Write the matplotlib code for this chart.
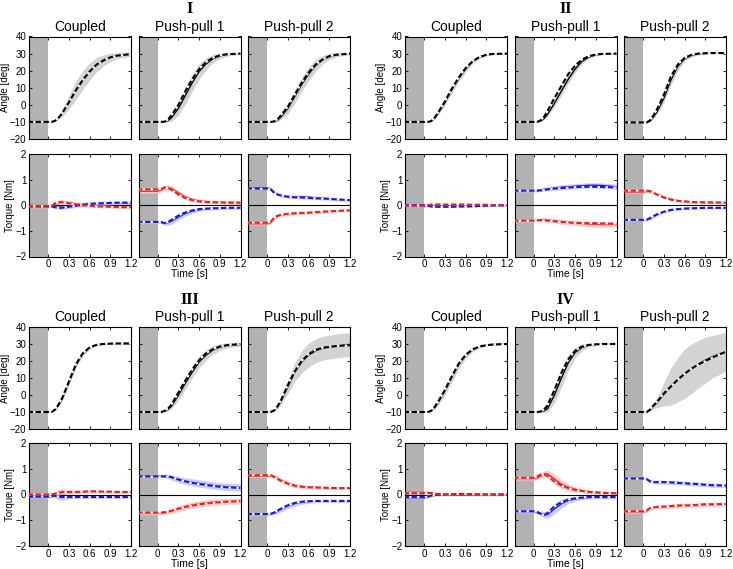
import numpy as np
import matplotlib
matplotlib.use('Agg')
import matplotlib.pyplot as plt

plt.rcParams['font.family'] = ['Liberation Sans', 'DejaVu Sans']

# time grid (s)
T = [-0.3, 0.0, 0.05, 0.1, 0.15, 0.2, 0.3, 0.4, 0.5, 0.6, 0.7, 0.8, 0.9, 1.0, 1.2]

GROUPS = ['I', 'II', 'III', 'IV']
CONDS = ['C', 'P1', 'P2']
COND_TITLES = ['Coupled', 'Push-pull 1', 'Push-pull 2']
X_TICKS = [0, 0.3, 0.6, 0.9, 1.2]
X_TICK_LABELS = ['0', '0.3', '0.6', '0.9', '1.2']
ANG_TICKS = [-20, -10, 0, 10, 20, 30, 40]
TQ_TICKS = [-2, -1, 0, 1, 2]

# ---------------- Group I ----------------
I_C_ang      = [-10, -10, -10, -9.3, -7.5, -5, 1.5, 8.5, 14.5, 19.5, 23.5, 26, 27.8, 28.8, 29.7]
I_C_ang_mod  = [-10, -10, -10, -9.3, -7.5, -5, 1.5, 8.5, 14.5, 19.5, 23.5, 26, 27.8, 28.8, 29.7]
I_C_ang_sd   = [0, 0, 0, 0.3, 1, 2, 4, 5.5, 5.5, 5, 4.2, 3.3, 2.5, 1.8, 1.2]
I_C_red      = [-0.05, -0.05, -0.03, 0.05, 0.1, 0.12, 0.1, 0.05, 0.02, 0, -0.02, -0.03, -0.04, -0.05, -0.06]
I_C_red_mod  = [-0.03, -0.03, -0.02, 0.08, 0.12, 0.12, 0.08, 0.03, 0.0, -0.02, -0.04, -0.05, -0.06, -0.07, -0.08]
I_C_red_sd   = [0.05, 0.05, 0.06, 0.08, 0.1, 0.1, 0.08, 0.07, 0.07, 0.07, 0.07, 0.07, 0.07, 0.07, 0.07]
I_C_blue     = [-0.03, -0.03, -0.04, -0.06, -0.08, -0.08, -0.05, 0, 0.03, 0.05, 0.06, 0.07, 0.08, 0.08, 0.09]
I_C_blue_mod = [-0.05, -0.05, -0.05, -0.08, -0.1, -0.1, -0.06, -0.02, 0.02, 0.05, 0.07, 0.08, 0.09, 0.1, 0.1]
I_C_blue_sd  = [0.04, 0.04, 0.05, 0.06, 0.08, 0.08, 0.08, 0.08, 0.09, 0.09, 0.09, 0.09, 0.09, 0.09, 0.09]

I_P1_ang      = [-10, -10, -10, -9.9, -9.2, -7.5, -2, 5.5, 13, 19.5, 24, 27, 28.7, 29.5, 30]
I_P1_ang_mod  = [-10, -10, -10, -9.8, -8.5, -6, 0, 8, 15, 21, 25, 27.5, 29, 29.6, 30]
I_P1_ang_sd   = [0, 0, 0, 0.3, 1, 2, 4, 5, 5, 4.5, 3.5, 2.5, 1.5, 1, 0.6]
I_P1_red      = [0.55, 0.55, 0.6, 0.68, 0.7, 0.65, 0.48, 0.32, 0.22, 0.17, 0.14, 0.13, 0.12, 0.11, 0.1]
I_P1_red_mod  = [0.62, 0.62, 0.63, 0.7, 0.68, 0.6, 0.42, 0.28, 0.2, 0.15, 0.13, 0.12, 0.11, 0.1, 0.1]
I_P1_red_sd   = [0.08, 0.08, 0.08, 0.09, 0.1, 0.1, 0.1, 0.09, 0.08, 0.07, 0.07, 0.07, 0.07, 0.07, 0.07]
I_P1_blue     = [-0.65, -0.65, -0.66, -0.7, -0.68, -0.62, -0.46, -0.32, -0.23, -0.17, -0.14, -0.12, -0.11, -0.1, -0.1]
I_P1_blue_mod = [-0.65, -0.65, -0.66, -0.7, -0.65, -0.57, -0.4, -0.28, -0.2, -0.15, -0.13, -0.12, -0.11, -0.1, -0.1]
I_P1_blue_sd  = [0.06, 0.06, 0.06, 0.08, 0.1, 0.12, 0.12, 0.1, 0.08, 0.07, 0.06, 0.06, 0.06, 0.06, 0.06]

I_P2_ang      = [-10, -10, -10, -9.8, -9, -7, -2, 5, 12, 18, 23, 26.3, 28.3, 29.3, 30]
I_P2_ang_mod  = [-10, -10, -10, -9.7, -8.5, -6, -1, 6, 13, 19, 23.5, 26.5, 28.5, 29.3, 30]
I_P2_ang_sd   = [0, 0, 0, 0.3, 0.8, 1.5, 3, 4, 4, 4, 3.5, 2.5, 1.8, 1.2, 0.6]
I_P2_red      = [-0.72, -0.72, -0.68, -0.5, -0.42, -0.38, -0.34, -0.32, -0.3, -0.29, -0.27, -0.25, -0.24, -0.22, -0.2]
I_P2_red_mod  = [-0.68, -0.68, -0.65, -0.48, -0.41, -0.37, -0.33, -0.31, -0.3, -0.29, -0.27, -0.25, -0.24, -0.22, -0.2]
I_P2_red_sd   = [0.05, 0.05, 0.05, 0.06, 0.06, 0.06, 0.06, 0.06, 0.06, 0.06, 0.06, 0.06, 0.06, 0.06, 0.05]
I_P2_blue     = [0.68, 0.68, 0.64, 0.5, 0.42, 0.38, 0.34, 0.33, 0.33, 0.31, 0.29, 0.27, 0.25, 0.23, 0.2]
I_P2_blue_mod = [0.65, 0.65, 0.62, 0.48, 0.42, 0.38, 0.33, 0.31, 0.3, 0.29, 0.27, 0.26, 0.25, 0.23, 0.2]
I_P2_blue_sd  = [0.05, 0.05, 0.05, 0.06, 0.06, 0.06, 0.06, 0.07, 0.08, 0.08, 0.07, 0.06, 0.06, 0.06, 0.05]

# ---------------- Group II ----------------
II_C_ang      = [-10, -10, -10, -9.6, -7.8, -5, 1.5, 9, 15.5, 21, 25.3, 28, 29.3, 29.8, 30]
II_C_ang_mod  = [-10, -10, -10, -9.5, -7.5, -4.5, 2, 9.5, 16, 21.5, 25.5, 28, 29.3, 29.8, 30]
II_C_ang_sd   = [0, 0, 0, 0.3, 0.6, 1, 1.8, 2, 2, 1.8, 1.3, 0.9, 0.6, 0.4, 0.3]
II_C_red      = [-0.05, -0.05, -0.02, 0.02, 0.03, 0.03, 0.03, 0.02, 0.02, 0.02, 0.02, 0.01, 0.01, 0.01, 0.0]
II_C_red_mod  = [-0.02, -0.02, 0.0, 0.03, 0.03, 0.03, 0.03, 0.03, 0.03, 0.03, 0.02, 0.02, 0.02, 0.01, 0.0]
II_C_red_sd   = [0.04, 0.04, 0.04, 0.04, 0.04, 0.04, 0.04, 0.04, 0.04, 0.04, 0.04, 0.04, 0.04, 0.04, 0.04]
II_C_blue     = [0.01, 0.01, -0.01, -0.04, -0.05, -0.05, -0.05, -0.05, -0.04, -0.04, -0.03, -0.02, -0.02, -0.01, 0]
II_C_blue_mod = [0, 0, -0.02, -0.05, -0.06, -0.06, -0.06, -0.06, -0.05, -0.05, -0.04, -0.03, -0.02, -0.01, 0]
II_C_blue_sd  = [0.03, 0.03, 0.03, 0.03, 0.03, 0.03, 0.03, 0.03, 0.03, 0.03, 0.03, 0.03, 0.03, 0.03, 0.03]

II_P1_ang      = [-10, -10, -10, -9.5, -8, -5.5, 1, 8, 15, 21, 25.5, 28, 29.3, 29.8, 30]
II_P1_ang_mod  = [-10, -10, -10, -9, -7, -3.5, 4, 11, 18, 23, 26.5, 28.5, 29.5, 29.8, 30]
II_P1_ang_sd   = [0, 0, 0, 0.3, 0.6, 1, 2, 2.5, 2.5, 2, 1.5, 1, 0.6, 0.4, 0.3]
II_P1_red      = [-0.6, -0.6, -0.58, -0.56, -0.56, -0.58, -0.61, -0.64, -0.67, -0.69, -0.71, -0.73, -0.74, -0.75, -0.75]
II_P1_red_mod  = [-0.6, -0.6, -0.59, -0.58, -0.59, -0.6, -0.62, -0.65, -0.67, -0.69, -0.7, -0.7, -0.7, -0.71, -0.72]
II_P1_red_sd   = [0.05, 0.05, 0.05, 0.06, 0.07, 0.08, 0.09, 0.1, 0.1, 0.1, 0.1, 0.1, 0.1, 0.1, 0.1]
II_P1_blue     = [0.57, 0.57, 0.57, 0.6, 0.62, 0.64, 0.67, 0.7, 0.72, 0.74, 0.76, 0.78, 0.78, 0.77, 0.72]
II_P1_blue_mod = [0.57, 0.57, 0.57, 0.58, 0.6, 0.62, 0.65, 0.67, 0.69, 0.71, 0.72, 0.72, 0.72, 0.71, 0.7]
II_P1_blue_sd  = [0.05, 0.05, 0.05, 0.06, 0.07, 0.08, 0.09, 0.1, 0.1, 0.1, 0.1, 0.1, 0.1, 0.1, 0.1]

II_P2_ang      = [-10.3, -10.3, -10.3, -9.5, -7, -4, 4, 14.5, 22.5, 27, 29, 29.8, 30.1, 30.3, 30.3]
II_P2_ang_mod  = [-10.3, -10.3, -10.3, -9, -6, -2.5, 6, 16.5, 23.5, 27.5, 29.3, 30, 30.2, 30.3, 30.3]
II_P2_ang_sd   = [0, 0, 0, 0.3, 0.6, 1.2, 2.5, 3, 2.5, 1.5, 1, 0.6, 0.4, 0.3, 0.3]
II_P2_red      = [0.52, 0.52, 0.54, 0.53, 0.48, 0.43, 0.32, 0.24, 0.18, 0.15, 0.13, 0.12, 0.11, 0.11, 0.1]
II_P2_red_mod  = [0.57, 0.57, 0.57, 0.55, 0.48, 0.42, 0.3, 0.22, 0.17, 0.15, 0.13, 0.12, 0.11, 0.11, 0.1]
II_P2_red_sd   = [0.05, 0.05, 0.05, 0.05, 0.05, 0.05, 0.05, 0.05, 0.05, 0.05, 0.05, 0.05, 0.05, 0.05, 0.05]
II_P2_blue     = [-0.58, -0.58, -0.57, -0.52, -0.44, -0.37, -0.26, -0.19, -0.15, -0.13, -0.12, -0.11, -0.1, -0.1, -0.1]
II_P2_blue_mod = [-0.57, -0.57, -0.56, -0.5, -0.42, -0.35, -0.25, -0.18, -0.15, -0.13, -0.12, -0.11, -0.1, -0.1, -0.1]
II_P2_blue_sd  = [0.04, 0.04, 0.04, 0.04, 0.04, 0.04, 0.04, 0.04, 0.04, 0.04, 0.04, 0.04, 0.04, 0.04, 0.04]

# ---------------- Group III ----------------
III_C_ang      = [-10, -10, -10, -8.7, -6, -2.5, 7.5, 17.5, 24.2, 27.8, 29.5, 30, 30.2, 30.3, 30.3]
III_C_ang_mod  = [-10, -10, -10, -8.5, -5.5, -2, 8, 18, 24.5, 28, 29.5, 30, 30.2, 30.3, 30.3]
III_C_ang_sd   = [0, 0, 0, 0.3, 0.6, 1, 1.5, 1.5, 1.2, 0.8, 0.5, 0.3, 0.3, 0.3, 0.3]
III_C_red      = [0.0, 0.0, 0.01, 0.04, 0.08, 0.1, 0.1, 0.1, 0.11, 0.12, 0.12, 0.11, 0.11, 0.1, 0.1]
III_C_red_mod  = [0.0, 0.0, 0.0, 0.03, 0.06, 0.09, 0.1, 0.1, 0.11, 0.12, 0.12, 0.11, 0.11, 0.1, 0.1]
III_C_red_sd   = [0.04, 0.04, 0.05, 0.08, 0.12, 0.12, 0.08, 0.06, 0.06, 0.06, 0.06, 0.05, 0.05, 0.05, 0.05]
III_C_blue     = [-0.1, -0.1, -0.07, -0.05, -0.08, -0.1, -0.1, -0.1, -0.1, -0.1, -0.1, -0.1, -0.1, -0.1, -0.1]
III_C_blue_mod = [-0.08, -0.08, -0.06, -0.05, -0.07, -0.1, -0.1, -0.1, -0.1, -0.1, -0.1, -0.1, -0.1, -0.1, -0.1]
III_C_blue_sd  = [0.04, 0.04, 0.05, 0.08, 0.12, 0.12, 0.06, 0.04, 0.04, 0.04, 0.04, 0.04, 0.04, 0.04, 0.04]

III_P1_ang      = [-10, -10, -10, -9.5, -8.5, -6.5, 0, 7, 13.5, 19.5, 23.5, 26.5, 28.2, 29.2, 29.8]
III_P1_ang_mod  = [-10, -10, -10, -9.3, -8, -5.5, 1.5, 8.5, 15, 20.5, 24.5, 27, 28.5, 29.3, 30]
III_P1_ang_sd   = [0, 0, 0, 0.3, 0.8, 1.5, 3, 3.5, 3.5, 3.5, 3, 2.5, 2, 1.5, 1]
III_P1_red      = [-0.72, -0.72, -0.72, -0.7, -0.68, -0.64, -0.55, -0.47, -0.41, -0.36, -0.33, -0.3, -0.28, -0.27, -0.25]
III_P1_red_mod  = [-0.7, -0.7, -0.7, -0.69, -0.67, -0.63, -0.55, -0.48, -0.43, -0.38, -0.35, -0.32, -0.3, -0.28, -0.26]
III_P1_red_sd   = [0.06, 0.06, 0.06, 0.07, 0.08, 0.1, 0.12, 0.12, 0.12, 0.12, 0.12, 0.12, 0.12, 0.12, 0.12]
III_P1_blue     = [0.72, 0.72, 0.72, 0.72, 0.7, 0.66, 0.58, 0.52, 0.47, 0.43, 0.39, 0.35, 0.32, 0.3, 0.27]
III_P1_blue_mod = [0.7, 0.7, 0.7, 0.7, 0.7, 0.67, 0.58, 0.51, 0.45, 0.41, 0.37, 0.33, 0.3, 0.28, 0.25]
III_P1_blue_sd  = [0.06, 0.06, 0.06, 0.07, 0.08, 0.1, 0.12, 0.13, 0.14, 0.14, 0.14, 0.14, 0.14, 0.14, 0.14]

III_P2_ang      = [-10, -10, -10, -9.2, -7, -3.5, 5, 13.5, 19.5, 23.5, 26, 27.5, 28.2, 28.8, 29.8]
III_P2_ang_mod  = [-10, -10, -10, -9, -6.5, -3, 6, 14, 20, 24, 26.5, 27.8, 28.3, 28.8, 29.3]
III_P2_ang_sd   = [0, 0, 0, 0.5, 1, 2, 4, 5.5, 6.5, 7, 7, 7, 7, 7, 7]
III_P2_red      = [0.72, 0.72, 0.74, 0.7, 0.63, 0.55, 0.43, 0.35, 0.31, 0.29, 0.28, 0.27, 0.26, 0.25, 0.25]
III_P2_red_mod  = [0.75, 0.75, 0.75, 0.68, 0.6, 0.53, 0.42, 0.34, 0.3, 0.28, 0.27, 0.26, 0.26, 0.25, 0.25]
III_P2_red_sd   = [0.06, 0.06, 0.06, 0.07, 0.08, 0.09, 0.1, 0.08, 0.07, 0.06, 0.06, 0.06, 0.06, 0.06, 0.06]
III_P2_blue     = [-0.76, -0.76, -0.75, -0.72, -0.65, -0.57, -0.44, -0.35, -0.3, -0.27, -0.26, -0.25, -0.25, -0.25, -0.25]
III_P2_blue_mod = [-0.76, -0.76, -0.75, -0.7, -0.62, -0.55, -0.42, -0.33, -0.28, -0.26, -0.25, -0.25, -0.25, -0.25, -0.25]
III_P2_blue_sd  = [0.06, 0.06, 0.06, 0.07, 0.08, 0.1, 0.12, 0.1, 0.08, 0.07, 0.06, 0.06, 0.06, 0.06, 0.06]

# ---------------- Group IV ----------------
IV_C_ang      = [-10, -10, -10, -9.4, -7.5, -4.5, 2.5, 10.5, 18, 23.5, 26.8, 28.5, 29.3, 29.7, 30]
IV_C_ang_mod  = [-10, -10, -10, -9.3, -7, -4, 3, 11, 18.5, 23.5, 26.8, 28.5, 29.3, 29.7, 30]
IV_C_ang_sd   = [0, 0, 0, 0.3, 0.8, 1.5, 2.5, 3, 2.5, 2, 1.3, 0.8, 0.5, 0.3, 0.2]
IV_C_red      = [0.08, 0.08, 0.08, 0.06, 0.03, 0.01, 0, 0, 0, 0, 0, 0, 0, 0, 0]
IV_C_red_mod  = [0.05, 0.05, 0.06, 0.06, 0.04, 0.02, 0, 0, 0, 0, 0, 0, 0, 0, 0]
IV_C_red_sd   = [0.04, 0.04, 0.04, 0.04, 0.04, 0.04, 0.03, 0.03, 0.03, 0.03, 0.03, 0.03, 0.03, 0.03, 0.03]
IV_C_blue     = [-0.12, -0.12, -0.1, -0.05, -0.02, -0.01, 0, 0.01, 0.02, 0.02, 0.01, 0, 0, 0, 0]
IV_C_blue_mod = [-0.1, -0.1, -0.08, -0.04, -0.02, -0.01, 0, 0.01, 0.02, 0.02, 0.01, 0, 0, 0, 0]
IV_C_blue_sd  = [0.04, 0.04, 0.04, 0.04, 0.04, 0.04, 0.03, 0.03, 0.03, 0.03, 0.03, 0.03, 0.03, 0.03, 0.03]

IV_P1_ang      = [-10, -10, -10, -9.8, -9.3, -8, 0, 10, 19, 25, 28, 29.3, 29.8, 30, 30]
IV_P1_ang_mod  = [-10, -10, -10, -9.7, -8.5, -6, 3, 13, 21, 26, 28.5, 29.5, 29.8, 30, 30]
IV_P1_ang_sd   = [0, 0, 0, 0.3, 1, 2, 4.5, 5.5, 4.5, 3, 2, 1, 0.5, 0.3, 0.2]
IV_P1_red      = [0.62, 0.62, 0.65, 0.72, 0.8, 0.8, 0.6, 0.4, 0.28, 0.2, 0.15, 0.11, 0.09, 0.07, 0.05]
IV_P1_red_mod  = [0.65, 0.65, 0.7, 0.78, 0.78, 0.72, 0.5, 0.35, 0.25, 0.18, 0.14, 0.1, 0.08, 0.06, 0.05]
IV_P1_red_sd   = [0.06, 0.06, 0.07, 0.09, 0.12, 0.15, 0.2, 0.18, 0.14, 0.1, 0.08, 0.07, 0.07, 0.07, 0.07]
IV_P1_blue     = [-0.66, -0.66, -0.7, -0.74, -0.78, -0.78, -0.55, -0.36, -0.23, -0.17, -0.13, -0.11, -0.1, -0.1, -0.1]
IV_P1_blue_mod = [-0.65, -0.65, -0.68, -0.75, -0.8, -0.72, -0.45, -0.3, -0.2, -0.15, -0.12, -0.1, -0.1, -0.1, -0.1]
IV_P1_blue_sd  = [0.06, 0.06, 0.07, 0.09, 0.12, 0.15, 0.2, 0.18, 0.12, 0.09, 0.07, 0.06, 0.06, 0.06, 0.06]

IV_P2_ang      = [-10, -10, -10, -8.8, -6.5, -4.5, 0.5, 5, 9, 12.5, 15.5, 18.2, 20.5, 22.5, 25.5]
IV_P2_ang_mod  = [-10, -10, -10, -8.5, -6, -4, 1, 5, 9, 12.5, 15.5, 18, 20, 22, 25.5]
IV_P2_ang_sd   = [0, 0, 0, 0.5, 1.5, 3, 7, 11, 13, 14.5, 14.5, 14, 13.5, 12.5, 11.5]
IV_P2_red      = [-0.67, -0.67, -0.64, -0.53, -0.5, -0.49, -0.47, -0.45, -0.43, -0.42, -0.42, -0.4, -0.38, -0.38, -0.37]
IV_P2_red_mod  = [-0.65, -0.65, -0.62, -0.52, -0.5, -0.48, -0.47, -0.45, -0.43, -0.43, -0.42, -0.4, -0.38, -0.38, -0.37]
IV_P2_red_sd   = [0.05, 0.05, 0.05, 0.06, 0.07, 0.08, 0.08, 0.08, 0.08, 0.08, 0.08, 0.08, 0.08, 0.08, 0.08]
IV_P2_blue     = [0.63, 0.63, 0.6, 0.52, 0.49, 0.48, 0.48, 0.47, 0.46, 0.44, 0.42, 0.4, 0.38, 0.36, 0.35]
IV_P2_blue_mod = [0.62, 0.62, 0.6, 0.5, 0.48, 0.48, 0.48, 0.47, 0.45, 0.43, 0.42, 0.4, 0.38, 0.36, 0.35]
IV_P2_blue_sd  = [0.05, 0.05, 0.05, 0.06, 0.07, 0.08, 0.08, 0.08, 0.08, 0.08, 0.08, 0.08, 0.08, 0.08, 0.08]

# ---------------- drawing ----------------
W, H = 733, 569
fig = plt.figure(figsize=(W / 100, H / 100), dpi=100)

COL_X = {'I': [29, 138.5, 248], 'II': [405, 514.5, 624],
         'III': [29, 138.5, 248], 'IV': [405, 514.5, 624]}
ROW_Y = {'I': [(36.5, 139), (154, 256.5)], 'II': [(36.5, 139), (154, 256.5)],
         'III': [(327, 429), (443, 546)], 'IV': [(327, 429), (443, 546)]}
AX_W = 102
XLIM = (-0.28, 1.2)
PRE_GRAY = '#b2b2b2'
ANG_BAND = '#d3d3d3'
RED = '#ee1c1c'
BLUE = '#1818d8'
RED_BAND = '#f8c4c4'
BLUE_BAND = '#c4c4f4'
TICK_FS = 7


def make_ax(x, ytop, ybot):
    return fig.add_axes([x / W, 1 - ybot / H, AX_W / W, (ybot - ytop) / H])


def style(ax):
    ax.set_xlim(*XLIM)
    ax.tick_params(direction='in', top=True, right=True, length=2.5, width=0.6,
                   labelsize=TICK_FS, pad=2)
    for s in ax.spines.values():
        s.set_linewidth(0.8)
    ax.axvspan(XLIM[0], 0, color=PRE_GRAY, lw=0, zorder=0)


def pair(ax, t, mean, mod, color):
    ax.plot(t, mean, color=color, lw=1.0, zorder=4, solid_capstyle='butt')
    ax.plot(t, mod, color='white', lw=1.3, zorder=5)
    ax.plot(t, mod, color=color, lw=1.5, dashes=(2.6, 1.2), zorder=6)


t = np.array(T)
for g in GROUPS:
    for ci, (c, title) in enumerate(zip(CONDS, COND_TITLES)):
        x = COL_X[g][ci]
        (a_top, a_bot), (q_top, q_bot) = ROW_Y[g]
        G = globals()
        # angle
        ax = make_ax(x, a_top, a_bot)
        style(ax)
        ang = np.array(G[f'{g}_{c}_ang'])
        sd = np.array(G[f'{g}_{c}_ang_sd'])
        ax.fill_between(t, ang - sd, ang + sd, color=ANG_BAND, lw=0, zorder=2)
        pair(ax, t, ang, G[f'{g}_{c}_ang_mod'], 'black')
        ax.set_ylim(-20, 40)
        ax.set_yticks(ANG_TICKS)
        ax.set_xticks(X_TICKS)
        ax.set_xticklabels([])
        ax.set_title(title, fontsize=10, pad=4)
        if ci == 0:
            ax.set_ylabel('Angle [deg]', fontsize=7, labelpad=0)
        else:
            ax.set_yticklabels([])
        # torque
        ax = make_ax(x, q_top, q_bot)
        style(ax)
        ax.axhline(0, color='black', lw=0.8, zorder=3)
        for col, band in (('red', RED_BAND), ('blue', BLUE_BAND)):
            m = np.array(G[f'{g}_{c}_{col}'])
            s = np.array(G[f'{g}_{c}_{col}_sd'])
            ax.fill_between(t, m - s, m + s, color=band, lw=0, alpha=0.85, zorder=2)
        for col, lc in (('blue', BLUE), ('red', RED)):
            pair(ax, t, G[f'{g}_{c}_{col}'], G[f'{g}_{c}_{col}_mod'], lc)
        ax.set_ylim(-2, 2)
        ax.set_yticks(TQ_TICKS)
        ax.set_xticks(X_TICKS)
        ax.set_xticklabels(X_TICK_LABELS)
        if ci == 0:
            ax.set_ylabel('Torque [Nm]', fontsize=7, labelpad=0)
        else:
            ax.set_yticklabels([])
        if ci == 1:
            ax.set_xlabel('Time [s]', fontsize=7.5, labelpad=0)
            fig.text((x + AX_W / 2) / W, 1 - (a_top - 27.5) / H, g,
                     family=['Liberation Serif', 'DejaVu Serif'], fontweight='bold',
                     fontsize=11.5, ha='center', va='center')

fig.savefig('out.png', dpi=100)
